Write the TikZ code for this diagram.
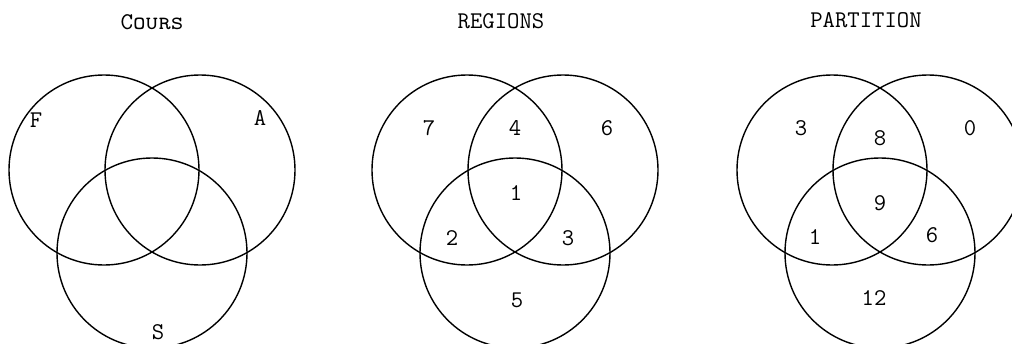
\documentclass[tikz,border=0pt]{standalone}
\usepackage{tikz}
\usetikzlibrary{positioning}

\begin{document}
\begin{tikzpicture}[
        x=0.5pt, y=-0.5pt,
        every node/.style={font=\ttfamily\large},
        ring/.style={circle, draw, line width=0.7pt, minimum size=95pt, inner sep=0pt},
        num/.style={inner sep=1pt}
    ]
    \useasboundingbox (0,0) rectangle (1012,343);

    % titles
    \node (tcours) at (152,22) {\textsc{Cours}};
    \node (tregions) at (501,21) {REGIONS};
    \node (tpartition) at (866,20) {PARTITION};

    % the three sets of circles
    \foreach \cx/\nm in {152/c, 515/r, 880/p} {
        \node[ring] (\nm F) at (\cx-48,170) {};
        \node[ring] (\nm A) at (\cx+48,170) {};
        \node[ring] (\nm S) at (\cx,253) {};
    }

    % cours
    \node[num] (lF) at (36,120) {F};
    \node[num] (lA) at (260,118) {A};
    \node[num] (lS) at (158,332) {S};

    % regions
    \node[num] (r7) at (429,128) {7};
    \node[num] (r4) at (515,128) {4};
    \node[num] (r6) at (607,128) {6};
    \node[num] (r1) at (516,193) {1};
    \node[num] (r2) at (452,238) {2};
    \node[num] (r3) at (568,238) {3};
    \node[num] (r5) at (517,300) {5};

    % partition
    \node[num] (p3) at (801,128) {3};
    \node[num] (p8) at (880,138) {8};
    \node[num] (p0) at (970,128) {0};
    \node[num] (p9) at (880,203) {9};
    \node[num] (p1) at (815,237) {1};
    \node[num] (p6) at (932,235) {6};
    \node[num] (p12) at (874,298) {12};
\end{tikzpicture}
\end{document}
